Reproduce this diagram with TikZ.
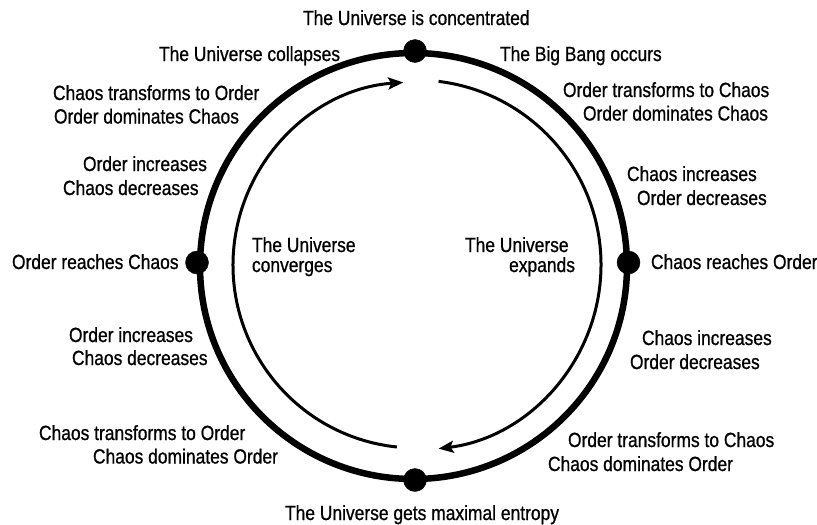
\documentclass[tikz,border=0pt]{standalone}
\usepackage{fontspec}
\setmainfont{Liberation Sans}[FakeStretch=0.85,FakeBold=0.8]
\usetikzlibrary{arrows.meta,calc}
\begin{document}
\begin{tikzpicture}[x=1pt,y=1pt,
  lbl/.style={inner sep=0pt,outer sep=0pt,anchor=base west,font=\fontsize{20.5}{24}\selectfont},
  lble/.style={lbl,anchor=base east},
  dot/.style={circle,fill=black,draw=black,minimum size=23pt,inner sep=0pt},
  outerring/.style={line width=6.5pt},
  flow/.style={line width=3pt,-{Stealth[length=15pt,width=12pt,inset=3pt]}}]
\useasboundingbox (0,0) rectangle (817,-525);
\coordinate (c) at (413.5,-266);
\coordinate (ic) at (416,-265);
% outer ring
\draw[outerring] (c) ellipse [x radius=213.5, y radius=213];
% inner arcs
\draw[flow] ($(ic)+(83:185)$) arc[start angle=83, end angle=-83, radius=185];
\draw[flow] ($(ic)+(264:183)$) arc[start angle=264, end angle=94, radius=183];
% dots
\node[dot] (ntop) at (415,-51) {};
\node[dot] (nbot) at (415,-480) {};
\node[dot] (nleft) at (197,-262.5) {};
\node[dot] (nright) at (628.5,-262.5) {};
% labels
\node[lbl] (t1) at (303,-25) {The Universe is concentrated};
\node[lbl] (t2) at (159,-61) {The Universe collapses};
\node[lbl] (t3) at (500,-61) {The Big Bang occurs};
\node[lbl] (l1a) at (53,-100) {Chaos transforms to Order};
\node[lbl] (l1b) at (54,-123.5) {Order dominates Chaos};
\node[lbl] (r1a) at (563,-97) {Order transforms to Chaos};
\node[lbl] (r1b) at (583,-120.5) {Order dominates Chaos};
\node[lbl] (l2a) at (83,-171) {Order increases};
\node[lbl] (l2b) at (63,-195) {Chaos decreases};
\node[lbl] (r2a) at (627,-181) {Chaos increases};
\node[lbl] (r2b) at (637,-205) {Order decreases};
\node[lbl] (lm) at (12,-269) {Order reaches Chaos};
\node[lbl] (rm) at (651,-269) {Chaos reaches Order};
\node[lbl] (ila) at (252,-252) {The Universe};
\node[lbl] (ilb) at (252,-272) {converges};
\node[lbl] (ira) at (465,-252) {The Universe};
\node[lble] (irb) at (575,-272) {expands};
\node[lbl] (l3a) at (69,-342) {Order increases};
\node[lbl] (l3b) at (72,-365) {Chaos decreases};
\node[lbl] (r3a) at (642,-345) {Chaos increases};
\node[lbl] (r3b) at (630,-369) {Order decreases};
\node[lbl] (l4a) at (39,-440) {Chaos transforms to Order};
\node[lbl] (l4b) at (93,-463.5) {Chaos dominates Order};
\node[lbl] (r4a) at (568,-447) {Order transforms to Chaos};
\node[lbl] (r4b) at (548,-471) {Chaos dominates Order};
\node[lbl] (b1) at (285,-520) {The Universe gets maximal entropy};
\end{tikzpicture}
\end{document}
